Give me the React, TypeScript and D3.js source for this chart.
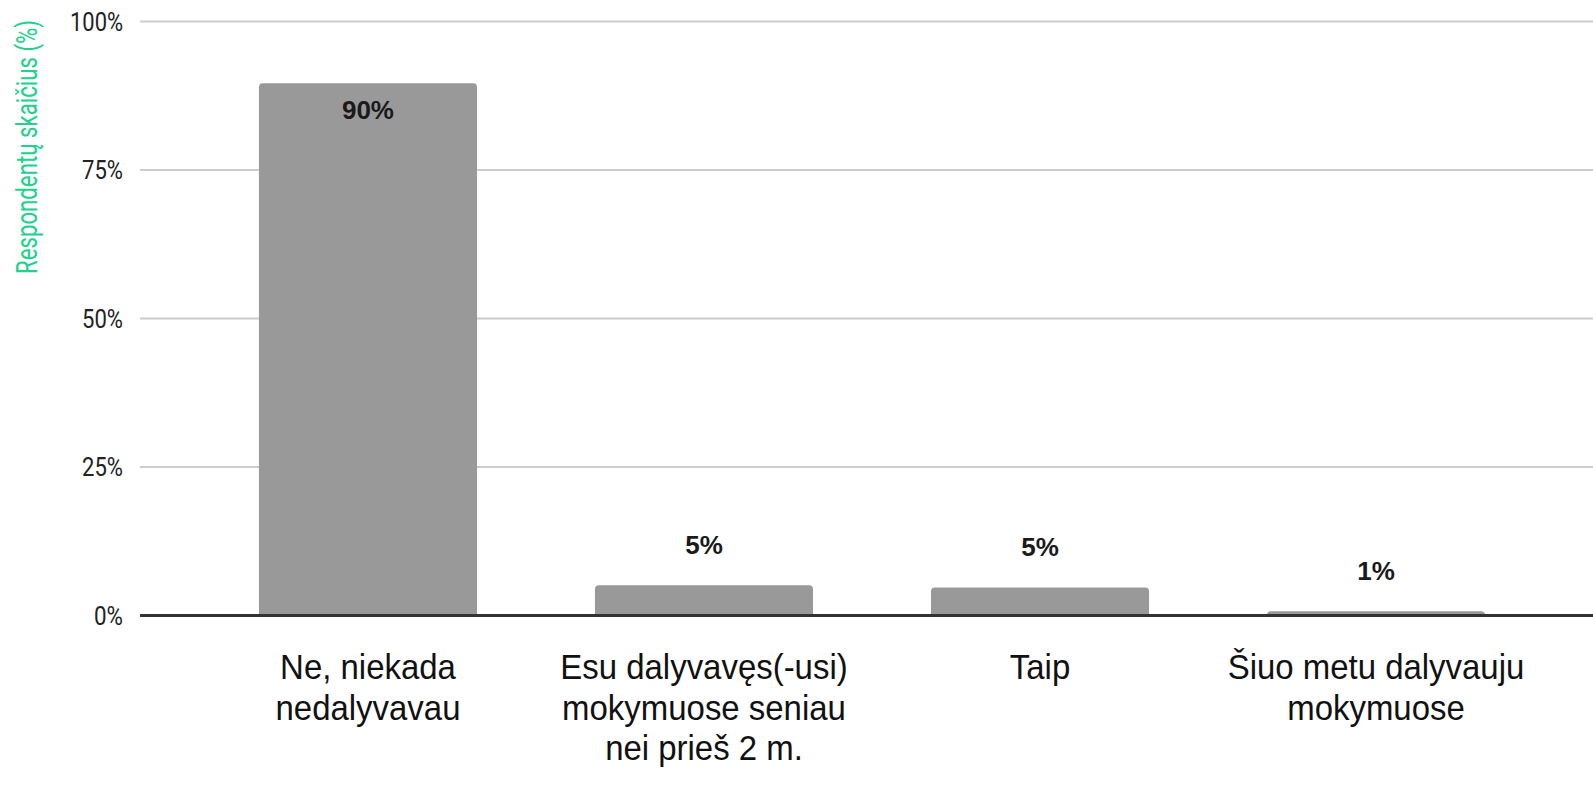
import React from "react";
import * as d3 from "d3";

const categories: string[][] = [
  ["Ne, niekada", "nedalyvavau"],
  ["Esu dalyvavęs(-usi)", "mokymuose seniau", "nei prieš 2 m."],
  ["Taip"],
  ["Šiuo metu dalyvauju", "mokymuose"],
];
const values: number[] = [89.6, 5.1, 4.7, 0.7];
const valueLabels: string[] = ["90%", "5%", "5%", "1%"];
const yTicks: number[] = [0, 25, 50, 75, 100];
const yTitle = "Respondentų skaičius (%)";

const W = 1593;
const H = 789;

export default function App() {
  const x = d3
    .scaleBand<number>()
    .domain(categories.map((_, i) => i))
    .range([140, 1604])
    .paddingInner(0.351)
    .paddingOuter(0.354);
  const y = d3.scaleLinear().domain([0, 100]).range([615.5, 21.5]);

  const barPath = (x0: number, w: number, yTop: number, yBot: number) => {
    const r = Math.min(4, yBot - yTop);
    return `M${x0},${yBot}V${yTop + r}Q${x0},${yTop} ${x0 + r},${yTop}H${x0 + w - r}Q${x0 + w},${yTop} ${x0 + w},${yTop + r}V${yBot}Z`;
  };

  return (
    <svg
      width={W}
      height={H}
      style={{ position: "absolute", left: 0, top: 0, background: "#fff" }}
    >
      <rect x={0} y={0} width={W} height={H} fill="#fff" />
      {yTicks
        .filter((t) => t !== 0)
        .map((t) => (
          <line
            key={t}
            x1={140}
            x2={W}
            y1={y(t)}
            y2={y(t)}
            stroke="#cccccc"
            strokeWidth={2}
          />
        ))}
      {yTicks.map((t) => (
        <text
          key={t}
          x={123}
          y={y(t) + 9}
          textAnchor="end"
          fontFamily="Roboto, sans-serif"
          fontSize={25}
          fill="#222"
          textLength={12 * String(t).length + 17}
          lengthAdjust="spacingAndGlyphs"
        >
          {`${t}%`}
        </text>
      ))}
      <text
        transform={`translate(37,147) rotate(-90)`}
        textAnchor="middle"
        fontFamily="Roboto, sans-serif"
        fontSize={29}
        fill="#22d18b"
        textLength={254}
        lengthAdjust="spacingAndGlyphs"
      >
        {yTitle}
      </text>
      {values.map((v, i) => (
        <path
          key={i}
          d={barPath(x(i)!, x.bandwidth(), y(v), y(0))}
          fill="#999999"
        />
      ))}
      <line x1={140} x2={W} y1={y(0)} y2={y(0)} stroke="#333" strokeWidth={3} />
      {values.map((v, i) => {
        const cx = x(i)! + x.bandwidth() / 2;
        const inside = v > 50;
        const yy = inside ? y(v) + 36 : y(v) - 31.5;
        return (
          <text
            key={i}
            x={cx}
            y={yy}
            textAnchor="middle"
            fontFamily="'Liberation Sans', Arial, sans-serif"
            fontWeight="bold"
            fontSize={26}
            fill="#1a1a1a"
          >
            {valueLabels[i]}
          </text>
        );
      })}
      {categories.map((lines, i) => {
        const cx = x(i)! + x.bandwidth() / 2;
        return (
          <g key={i} transform={`translate(${cx},0)`}>
            {lines.map((ln, j) => (
              <text
                key={j}
                transform={`translate(0,${679 + j * 40.5}) scale(0.915,1)`}
                textAnchor="middle"
                fontFamily="'Liberation Sans', Arial, sans-serif"
                fontSize={36}
                fill="#111"
              >
                {ln}
              </text>
            ))}
          </g>
        );
      })}
    </svg>
  );
}
